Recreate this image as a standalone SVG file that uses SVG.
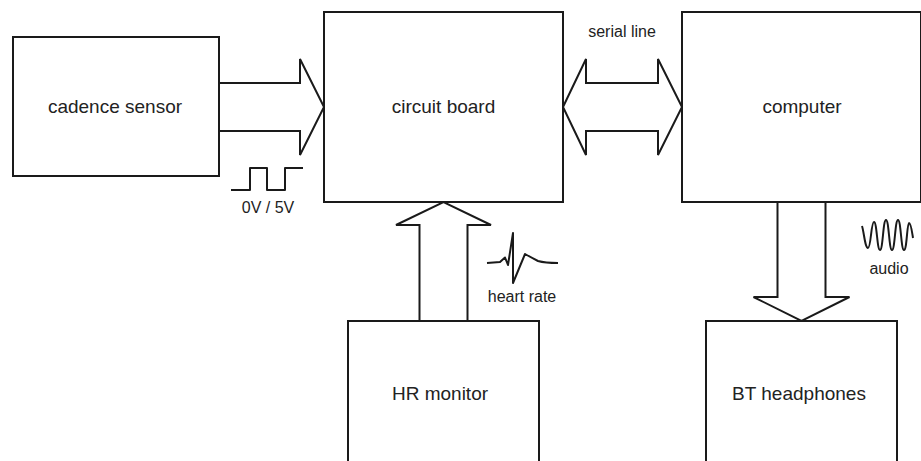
<svg xmlns="http://www.w3.org/2000/svg" width="921" height="461" viewBox="0 0 921 461">
<style>
.box{fill:#fff;stroke:#1a1a1a;stroke-width:2}
.arr{fill:#fff;stroke:#1a1a1a;stroke-width:2;stroke-linejoin:miter}
.sig{fill:none;stroke:#1a1a1a;stroke-width:2;stroke-linejoin:round}
.lbl{font-family:"Liberation Sans",Arial,sans-serif;font-size:19px;fill:#222;text-anchor:middle}
.sm{font-family:"Liberation Sans",Arial,sans-serif;font-size:16px;fill:#222;text-anchor:middle}
</style>
<rect width="921" height="461" fill="#fff"/>
<g id="connectors">
<path class="arr" d="M219,83 H300 V59 L324,107 L300,155 V131 H219"/>
<path class="arr" d="M563,107 L586,59 V83 H658 V59 L682,107 L658,155 V131 H586 V155 Z"/>
<path class="arr" d="M419.5,321 V225 H396 L443.5,202 L491,225 H467.5 V321"/>
<path class="arr" d="M777.5,202 V297 H753.5 L801.5,321 L849.5,297 H825.5 V202"/>
<path class="sig" d="M231,190 H250 V168 H267 V190 H285 V168 H303"/>
<text class="sm" x="268" y="213">0V / 5V</text>
<text class="sm" x="622" y="37">serial line</text>
<path class="sig" d="M487,263 L500,262 L505,257.5 L508,265 L513,233 L513,283 L525,254 Q532,258 538,261 Q545,263 558,263"/>
<text class="sm" x="522" y="302">heart rate</text>
<path class="sig" d="M862,226 C864,232 865,248 868,248 C871,248 871,222 874,222 C877,222 877,250 880,250 C883,250 883,220 886,220 C889,220 889,250 892,250 C895,250 895,220 898,220 C901,220 901,250 904,250 C907,250 907,223 909,223 C911,223 912,232 913,238"/>
<text class="sm" x="889" y="274">audio</text>
</g>
<g id="cadence-sensor">
<rect class="box" x="13" y="37" width="206" height="139"/>
<text class="lbl" x="115" y="113">cadence sensor</text>
</g>
<g id="circuit-board">
<rect class="box" x="324" y="12" width="239" height="190"/>
<text class="lbl" x="443.5" y="113">circuit board</text>
</g>
<g id="computer">
<rect class="box" x="682" y="12" width="239" height="190"/>
<text class="lbl" x="802" y="113">computer</text>
</g>
<g id="hr-monitor">
<rect class="box" x="348" y="321" width="191" height="160"/>
<text class="lbl" x="440" y="400">HR monitor</text>
</g>
<g id="bt-headphones">
<rect class="box" x="706" y="321" width="191" height="160"/>
<text class="lbl" x="799" y="400">BT headphones</text>
</g>
</svg>
